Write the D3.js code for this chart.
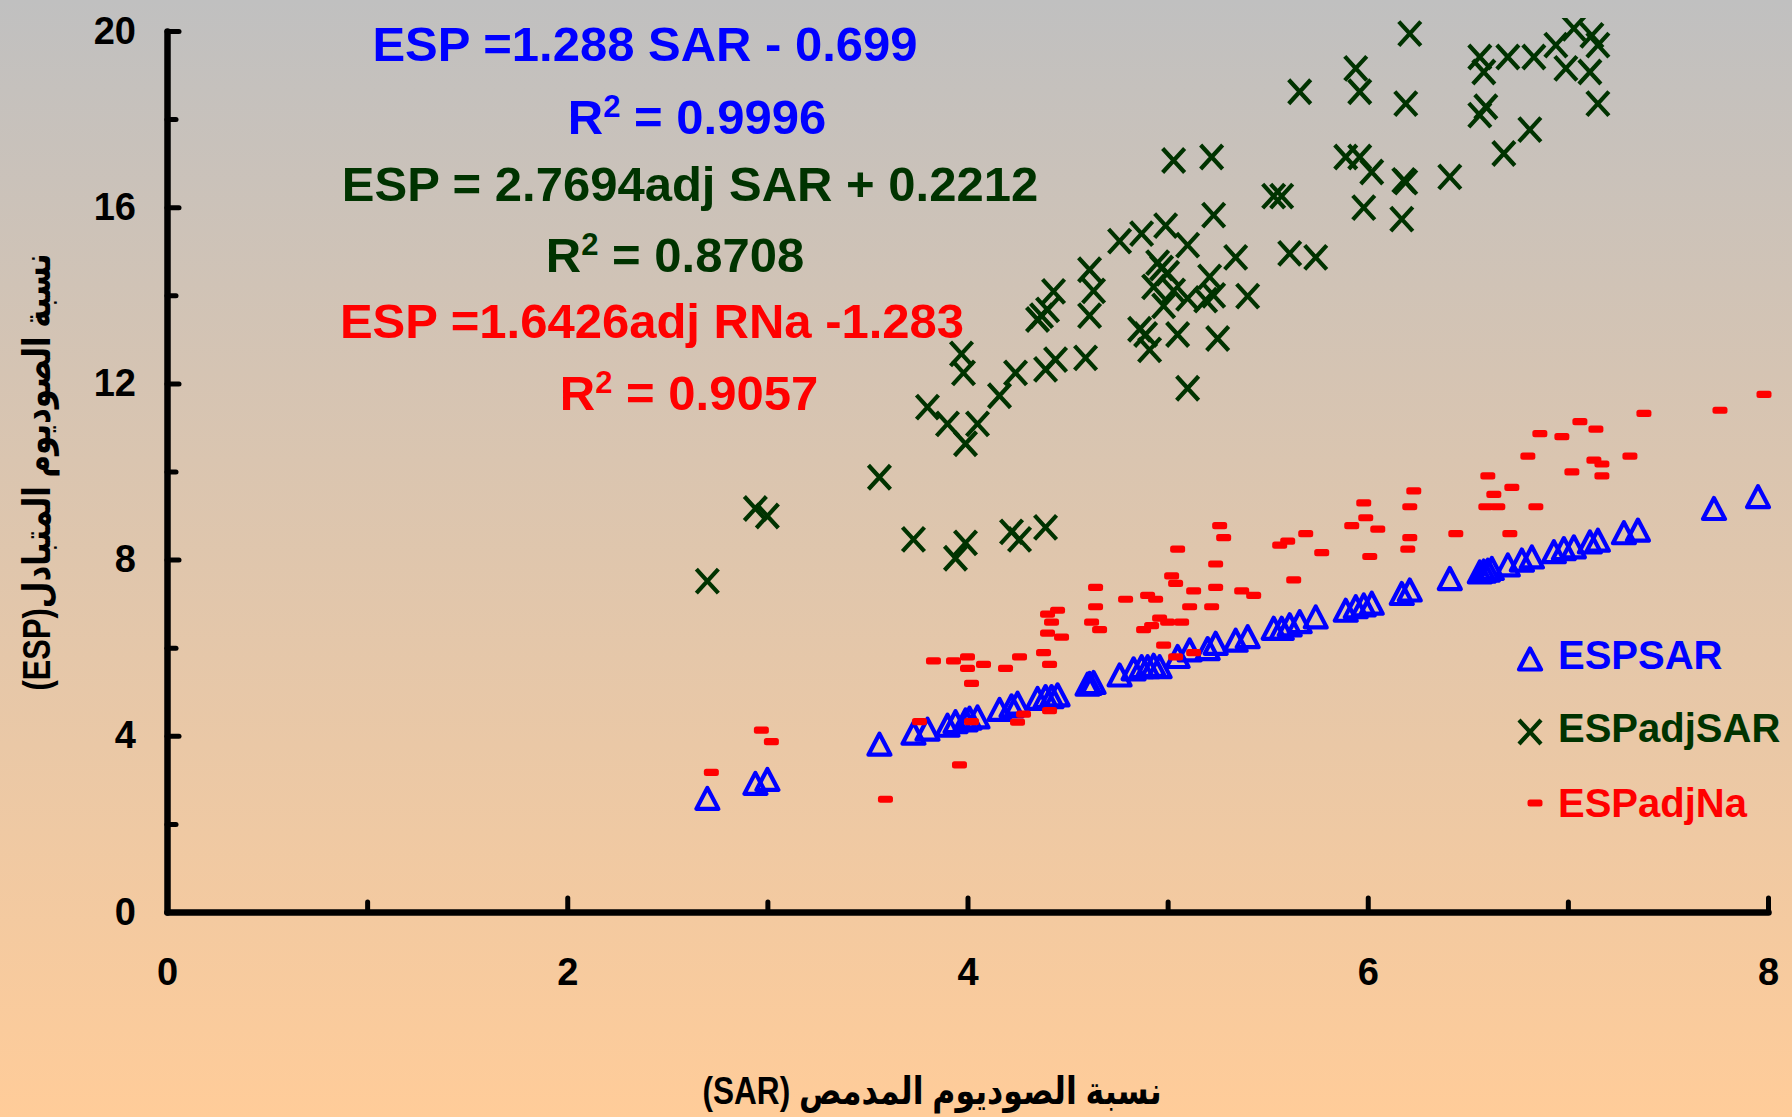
<!DOCTYPE html>
<html>
<head>
<meta charset="utf-8">
<script src="https://cdn.jsdelivr.net/npm/d3@7"></script>
<style>
  body { margin: 0; }
  svg { display: block; }
</style>
</head>
<body>
<svg id="chart" width="1792" height="1117"></svg>
<script>
// ESP computed from SAR (triangles)
const sarA = [2.70,2.94,3.00,3.56,3.73,3.80,3.90,3.94,3.99,4.01,4.05,4.16,4.22,4.25,4.35,4.39,4.42,4.45,4.60,4.61,4.63,4.76,4.83,4.87,4.90,4.93,4.96,5.05,5.11,5.20,5.24,5.34,5.40,5.53,5.57,5.61,5.66,5.74,5.89,5.94,5.98,6.02,6.17,6.21,6.41,6.56,6.58,6.60,6.62,6.70,6.77,6.82,6.93,6.98,7.03,7.11,7.15,7.28,7.35,7.73,7.95];
const espSAR = [2.58,2.92,3.01,3.81,4.06,4.15,4.24,4.32,4.36,4.40,4.43,4.60,4.68,4.74,4.85,4.89,4.89,4.93,5.17,5.19,5.21,5.38,5.52,5.57,5.57,5.60,5.57,5.80,5.95,5.98,6.10,6.17,6.25,6.44,6.44,6.52,6.59,6.70,6.85,6.93,6.97,7.01,7.23,7.31,7.57,7.72,7.74,7.76,7.80,7.88,7.99,8.06,8.18,8.25,8.29,8.40,8.44,8.61,8.67,9.16,9.43];

// ESP computed from adjusted SAR (crosses)
const sarB = [2.70,2.94,3.00,3.56,3.73,3.94,3.99,4.22,4.26,4.39,3.80,3.90,3.99,4.05,3.97,3.98,4.16,4.24,4.39,4.44,4.59,4.35,4.37,4.40,4.43,4.61,4.63,4.61,4.76,4.87,4.99,5.10,5.03,4.95,4.97,5.00,4.93,5.03,5.10,4.98,4.86,4.89,4.91,5.05,5.10,5.21,5.19,5.23,5.25,5.40,5.34,5.61,5.74,5.23,5.53,5.57,5.22,5.66,5.89,5.96,6.02,5.98,6.17,6.18,6.19,6.41,5.94,5.96,6.19,6.21,6.56,6.58,6.70,6.83,6.94,7.03,7.12,7.15,6.99,7.11,7.15,6.59,6.56,6.81,6.68];
const espAdjSAR = [7.51,9.16,8.99,9.87,8.46,8.03,8.38,8.63,8.46,8.73,11.46,11.08,10.63,11.08,12.67,12.24,11.72,12.24,12.32,12.54,12.58,13.45,13.54,13.67,14.09,13.54,14.10,14.58,15.23,15.40,15.58,15.14,17.06,14.74,14.62,14.50,14.19,14.10,13.93,13.76,13.23,13.11,12.76,13.11,11.89,14.42,13.89,14.00,13.02,13.98,14.86,14.95,14.86,15.82,16.25,16.25,17.14,18.62,17.14,17.14,16.80,15.99,15.73,16.61,16.57,16.69,19.15,18.62,18.35,19.94,19.41,19.07,19.41,19.41,19.68,20.06,19.90,19.68,19.15,19.07,18.35,18.28,18.09,17.76,17.22];

// ESP computed from adjusted RNa (dashes)
const sarC = [2.72,2.97,3.02,3.59,3.76,3.83,3.93,4.00,4.00,4.08,4.02,4.02,3.96,4.19,4.26,4.25,4.28,4.38,4.41,4.41,4.40,4.45,4.42,4.40,4.47,4.64,4.64,4.62,4.66,4.79,4.90,4.94,5.05,5.02,5.04,4.96,4.92,4.88,5.00,5.07,4.98,5.04,5.13,5.11,5.13,5.26,5.28,5.24,5.24,5.37,5.43,5.22,5.56,5.60,5.69,5.77,5.63,5.92,5.98,5.99,6.05,6.01,6.23,6.21,6.21,6.20,6.44,6.60,6.63,6.59,6.65,6.72,6.84,6.71,6.80,6.86,6.97,7.06,7.14,7.02,7.13,7.17,7.17,7.31,7.38,7.76,7.98];
const espAdjNa = [3.17,4.13,3.87,2.56,4.32,5.70,5.70,5.79,5.53,5.62,5.19,4.32,3.34,5.53,5.79,4.31,4.49,5.89,5.62,4.57,6.76,6.85,6.58,6.33,6.24,7.37,6.93,6.58,6.41,7.10,7.19,7.10,8.24,7.63,7.46,6.67,6.50,6.41,6.58,6.58,6.06,5.79,7.29,6.93,5.89,8.77,8.50,7.90,7.37,7.29,7.19,6.93,8.33,8.42,8.59,8.16,7.54,8.77,9.29,8.95,8.69,8.07,9.56,9.20,8.50,8.24,8.59,9.90,9.48,9.20,9.20,9.64,9.20,8.59,10.35,10.86,10.79,11.13,10.96,9.99,10.26,10.17,9.90,10.35,11.32,11.39,11.75];

const xTicks = [0, 2, 4, 6, 8];
const xMinorTicks = [1, 3, 5, 7];
const yTicks = [0, 4, 8, 12, 16, 20];
const yMinorTicks = [2, 6, 10, 14, 18];

const seriesNames = ["ESPSAR", "ESPadjSAR", "ESPadjNa"];
const equations = [
  { parts: ["ESP =1.288 SAR - 0.699"], color: "#0000ff" },
  { parts: ["R", "2", " = 0.9996"], color: "#0000ff" },
  { parts: ["ESP = 2.7694adj SAR + 0.2212"], color: "#003300" },
  { parts: ["R", "2", " = 0.8708"], color: "#003300" },
  { parts: ["ESP =1.6426adj RNa -1.283"], color: "#ff0000" },
  { parts: ["R", "2", " = 0.9057"], color: "#ff0000" }
];
const xTitle = "نسبة الصوديوم المدمص (SAR)";
const yTitle = "نسبة الصوديوم المتبادل(ESP)";

const BLUE = "#0000ff", GREEN = "#003300", RED = "#ff0000";
const FONT = '"Liberation Sans", Arial, "DejaVu Sans", sans-serif';

const svg = d3.select("#chart");
const W = 1792, H = 1117;

const defs = svg.append("defs");
const grad = defs.append("linearGradient").attr("id", "bg")
  .attr("x1", 0).attr("y1", 0).attr("x2", 0).attr("y2", 1);
grad.append("stop").attr("offset", "0%").attr("stop-color", "#c0c0c0");
grad.append("stop").attr("offset", "100%").attr("stop-color", "#ffcc99");
defs.append("clipPath").attr("id", "plotClip")
  .append("rect").attr("x", 150).attr("y", 18).attr("width", 1640).attr("height", 900);

svg.append("rect").attr("width", W).attr("height", H).attr("fill", "url(#bg)");

const x = d3.scaleLinear().domain([0, 8]).range([167, 1768]);
const y = d3.scaleLinear().domain([0, 20]).range([912, 31]);

// marker shapes
const triPath = "M0,-10.5L11,10.5L-11,10.5Z";
function drawTriangle(g) {
  g.append("path").attr("d", triPath).attr("fill", "none")
    .attr("stroke", BLUE).attr("stroke-width", 4.2).attr("stroke-linejoin", "round");
}
function drawCross(g) {
  g.append("path").attr("d", "M-11,-12L11,12M11,-12L-11,12")
    .attr("fill", "none").attr("stroke", GREEN).attr("stroke-width", 4.2);
}
function drawDash(g) {
  g.append("rect").attr("x", -7.5).attr("y", -3.6).attr("width", 15).attr("height", 7.2)
    .attr("rx", 2.5).attr("fill", RED);
}

// axes
function styleAxis(g, width) {
  g.select(".domain").attr("stroke", "#000").attr("stroke-width", width).attr("stroke-linecap", "round");
  g.selectAll(".tick line").attr("stroke", "#000").attr("stroke-width", 5).attr("stroke-linecap", "round");
  g.selectAll(".tick text").attr("fill", "#000").style("font-family", FONT)
    .style("font-weight", "bold").style("font-size", "38px");
}

const yMinor = svg.append("g").attr("transform", `translate(${x(0)},0)`)
  .call(d3.axisLeft(y).tickValues(yMinorTicks).tickSize(-9).tickSizeOuter(0).tickFormat(""));
yMinor.select(".domain").remove();
styleAxis(yMinor, 6.5);

const xMinor = svg.append("g").attr("transform", `translate(0,${y(0)})`)
  .call(d3.axisBottom(x).tickValues(xMinorTicks).tickSize(-10).tickSizeOuter(0).tickFormat(""));
xMinor.select(".domain").remove();
styleAxis(xMinor, 6.5);

const yAxis = svg.append("g").attr("transform", `translate(${x(0)},0)`)
  .call(d3.axisLeft(y).tickValues(yTicks).tickSize(-12).tickSizeOuter(0).tickPadding(31).tickFormat(d3.format("d")));
styleAxis(yAxis, 6.5);

const xAxis = svg.append("g").attr("transform", `translate(0,${y(0)})`)
  .call(d3.axisBottom(x).tickValues(xTicks).tickSize(-14).tickSizeOuter(0).tickPadding(46).tickFormat(d3.format("d")));
styleAxis(xAxis, 6.5);

// data points
const plot = svg.append("g").attr("clip-path", "url(#plotClip)");

plot.append("g").selectAll("g").data(d3.zip(sarA, espSAR)).join("g")
  .attr("transform", d => `translate(${x(d[0])},${y(d[1])})`)
  .each(function () { drawTriangle(d3.select(this)); });

plot.append("g").selectAll("g").data(d3.zip(sarB, espAdjSAR)).join("g")
  .attr("transform", d => `translate(${x(d[0])},${y(d[1])})`)
  .each(function () { drawCross(d3.select(this)); });

plot.append("g").selectAll("g").data(d3.zip(sarC, espAdjNa)).join("g")
  .attr("transform", d => `translate(${x(d[0])},${y(d[1])})`)
  .each(function () { drawDash(d3.select(this)); });

// regression equations
const eqX = [645, 697, 690, 675, 652, 689];
const eqY = [61, 134, 201, 272, 338, 410];
equations.forEach((eq, i) => {
  const t = svg.append("text").attr("x", eqX[i]).attr("y", eqY[i])
    .attr("text-anchor", "middle").attr("fill", eq.color)
    .style("font-family", FONT).style("font-weight", "bold").style("font-size", "49px");
  if (eq.parts.length === 1) {
    t.text(eq.parts[0]);
  } else {
    t.append("tspan").text(eq.parts[0]);
    t.append("tspan").attr("dy", -17).style("font-size", "31px").text(eq.parts[1]);
    t.append("tspan").attr("dy", 17).text(eq.parts[2]);
  }
});

// legend
const legend = svg.append("g");
const legendItems = [
  { name: seriesNames[0], color: BLUE, draw: drawTriangle, mx: 1530, my: 659, ty: 669 },
  { name: seriesNames[1], color: GREEN, draw: drawCross, mx: 1530, my: 732, ty: 742 },
  { name: seriesNames[2], color: RED, draw: drawDash, mx: 1535, my: 803, ty: 817 }
];
legendItems.forEach(item => {
  const g = legend.append("g").attr("transform", `translate(${item.mx},${item.my})`);
  item.draw(g);
  legend.append("text").attr("x", 1558).attr("y", item.ty).attr("fill", item.color)
    .style("font-family", FONT).style("font-weight", "bold").style("font-size", "40px")
    .text(item.name);
});

// axis titles
svg.append("text").attr("x", 932).attr("y", 1104)
  .attr("text-anchor", "middle").attr("direction", "rtl")
  .attr("textLength", 459).attr("lengthAdjust", "spacingAndGlyphs")
  .style("font-family", FONT).style("font-weight", "bold").style("font-size", "38px")
  .attr("fill", "#000").text(xTitle);

svg.append("text").attr("transform", "translate(50,472) rotate(-90)")
  .attr("text-anchor", "middle").attr("direction", "rtl")
  .attr("textLength", 437).attr("lengthAdjust", "spacingAndGlyphs")
  .style("font-family", FONT).style("font-weight", "bold").style("font-size", "38px")
  .attr("fill", "#000").text(yTitle);
</script>
</body>
</html>
